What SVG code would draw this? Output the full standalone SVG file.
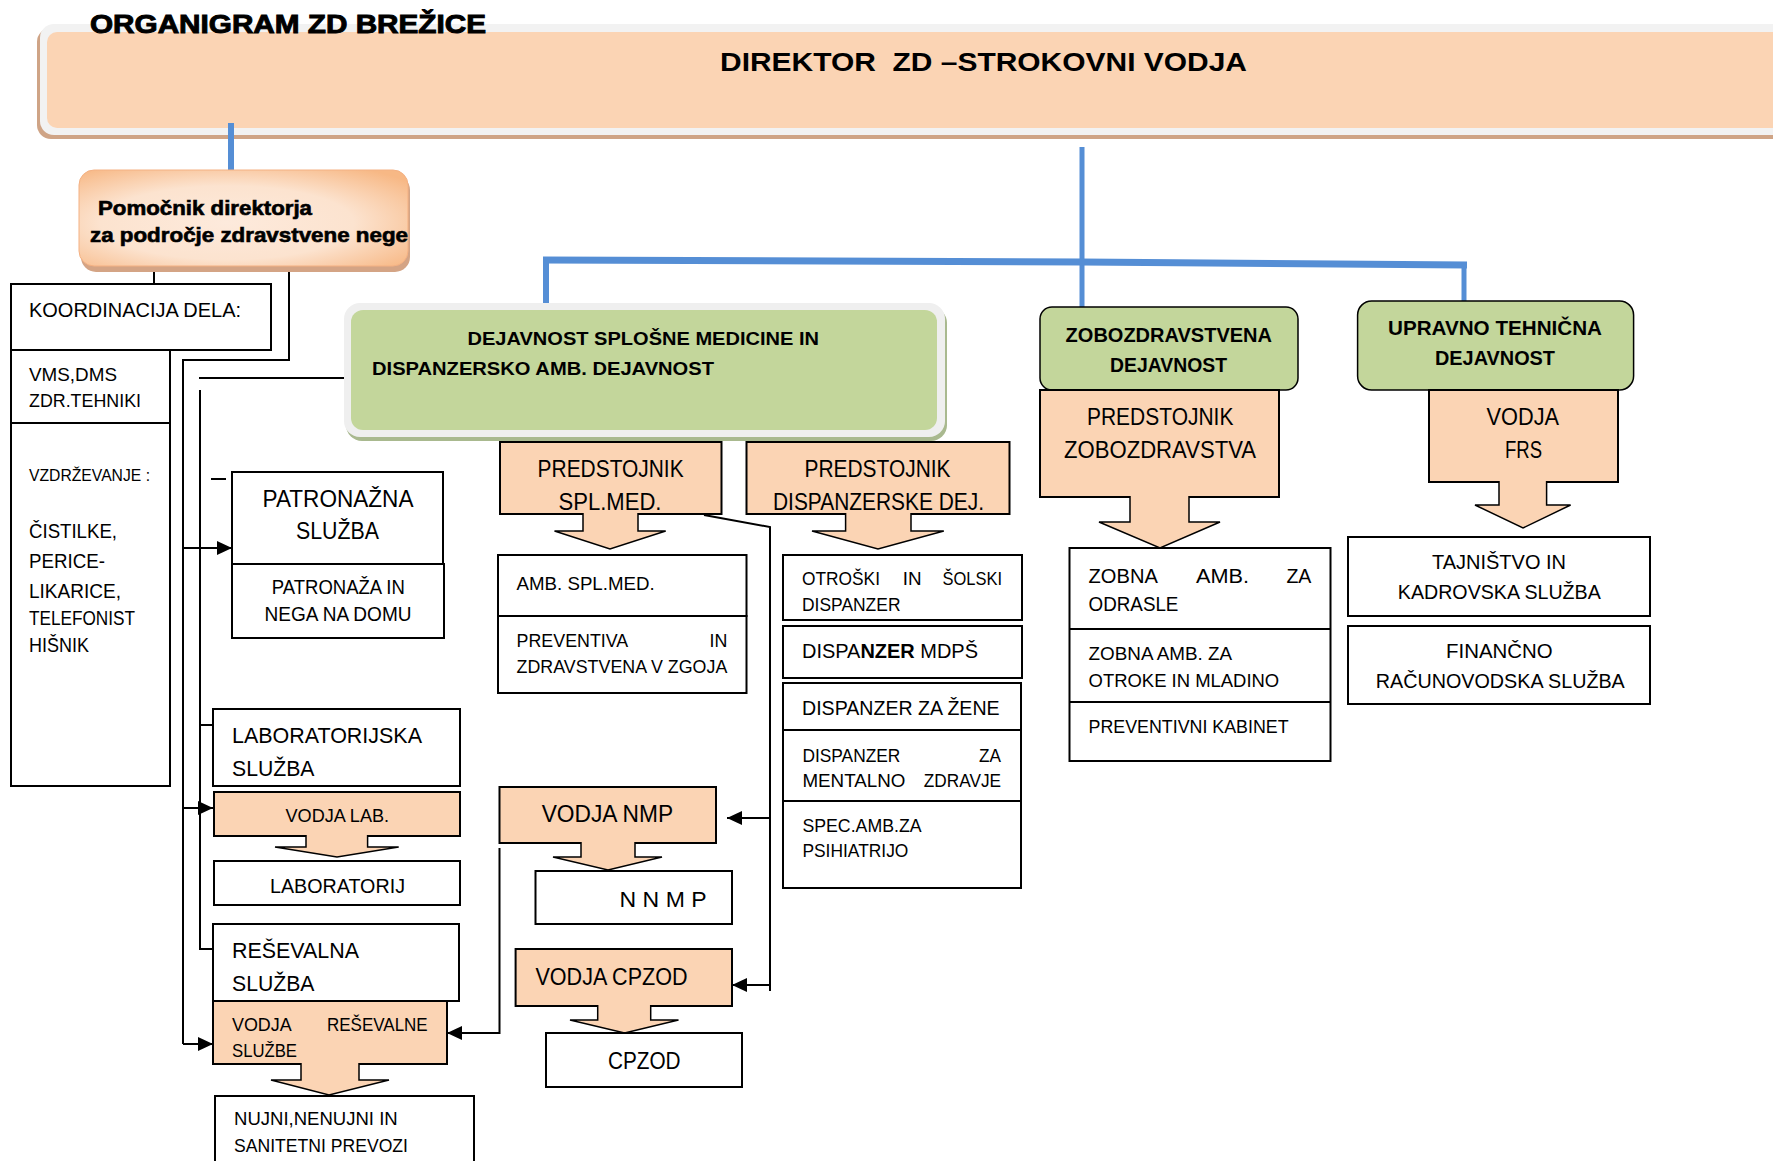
<svg xmlns="http://www.w3.org/2000/svg" width="1773" height="1161" viewBox="0 0 1773 1161">
<defs>
<style>
.t{font-family:"Liberation Sans",Arial,sans-serif;fill:#000}
.b{font-weight:bold}
.box{fill:#fff;stroke:#000;stroke-width:2}
.pe{fill:#fbd4b4;stroke:#000;stroke-width:2}
.ar{fill:#fbd4b4;stroke:#000;stroke-width:1.5;stroke-linejoin:miter}
.gr{fill:#c3d69b;stroke:#000;stroke-width:1.5}
.ln{fill:none;stroke:#000;stroke-width:2}
.bl{fill:none;stroke:#558ed5}
.hv{stroke:#000;stroke-width:0.6}
</style>
<radialGradient id="pg" cx="45%" cy="55%" r="70%">
<stop offset="0" stop-color="#fdeadc"/>
<stop offset="0.55" stop-color="#fce3cf"/>
<stop offset="1" stop-color="#f7b885"/>
</radialGradient>
<marker id="ah" markerUnits="userSpaceOnUse" markerWidth="16" markerHeight="14" refX="15" refY="7" orient="auto">
<path d="M0,0 L15,7 L0,14 Z" fill="#000"/>
</marker>
</defs>

<g id="direktor">
<rect x="37" y="28" width="1800" height="111" rx="14" fill="#cfa486"/>
<rect x="40" y="24" width="1800" height="111" rx="14" fill="#f2f2f2"/>
<rect x="47" y="32" width="1800" height="96" rx="10" fill="#fbd4b4"/>
<text class="t b" x="720" y="71" font-size="25" textLength="527" lengthAdjust="spacingAndGlyphs" style="white-space:pre">DIREKTOR  ZD –STROKOVNI VODJA</text>
</g>

<text class="t b" x="90" y="33" font-size="25" textLength="396" lengthAdjust="spacingAndGlyphs" style="stroke:#000;stroke-width:0.9">ORGANIGRAM ZD BREŽICE</text>

<g id="connectors">
<line class="bl" x1="231" y1="123" x2="231" y2="170" stroke-width="6"/>
<line class="bl" x1="1082" y1="147" x2="1082" y2="307" stroke-width="5"/>
<polyline class="bl" points="543,260 1082,262 1467,265" stroke-width="7"/>
<line class="bl" x1="546" y1="258" x2="546" y2="303" stroke-width="6"/>
<line class="bl" x1="1464" y1="262" x2="1464" y2="301" stroke-width="5"/>

<line class="ln" x1="154" y1="266" x2="154" y2="284"/>
<polyline class="ln" points="289,266 289,360 183,360 183,1044"/>
<line class="ln" x1="183" y1="548" x2="232" y2="548" marker-end="url(#ah)"/>
<line class="ln" x1="183" y1="808" x2="213" y2="808" marker-end="url(#ah)"/>
<line class="ln" x1="183" y1="1044" x2="213" y2="1044" marker-end="url(#ah)"/>
<line class="ln" x1="348" y1="378" x2="199" y2="378"/>
<line class="ln" x1="200" y1="390" x2="200" y2="949"/>
<line class="ln" x1="199" y1="725" x2="213" y2="725"/>
<line class="ln" x1="199" y1="949" x2="215" y2="949"/>
<line class="ln" x1="211" y1="479" x2="226" y2="479"/>
<polyline class="ln" points="704,515 770,527 770,991"/>
<line class="ln" x1="770" y1="818" x2="727" y2="818" marker-end="url(#ah)"/>
<line class="ln" x1="770" y1="985" x2="732" y2="985" marker-end="url(#ah)"/>
<polyline class="ln" points="499.5,848 499.5,1033 447,1033" marker-end="url(#ah)"/>
</g>

<g id="pomocnik">
<rect x="81" y="175" width="329" height="97" rx="15" fill="#d4a485"/>
<rect x="79" y="170" width="329" height="96" rx="15" fill="url(#pg)" stroke="#f4b183" stroke-width="1"/>
<text class="t b hv" x="98" y="215" font-size="19.5" textLength="214" lengthAdjust="spacingAndGlyphs">Pomočnik direktorja</text>
<text class="t b hv" x="90" y="242" font-size="19.5" textLength="318" lengthAdjust="spacingAndGlyphs">za področje zdravstvene nege</text>
</g>

<g id="koordinacija">
<rect class="box" x="11" y="284" width="260" height="66"/>
<text class="t" x="29" y="317" font-size="21" textLength="212" lengthAdjust="spacingAndGlyphs">KOORDINACIJA DELA:</text>
</g>
<g id="vms">
<rect class="box" x="11" y="350" width="159" height="73"/>
<text class="t" x="29" y="381" font-size="19" textLength="88" lengthAdjust="spacingAndGlyphs">VMS,DMS</text>
<text class="t" x="29" y="407" font-size="19" textLength="112" lengthAdjust="spacingAndGlyphs">ZDR.TEHNIKI</text>
</g>
<g id="vzdrzevanje">
<rect class="box" x="11" y="423" width="159" height="363"/>
<text class="t" x="29" y="481" font-size="17" textLength="121" lengthAdjust="spacingAndGlyphs">VZDRŽEVANJE :</text>
<text class="t" x="29" y="538" font-size="20" textLength="88" lengthAdjust="spacingAndGlyphs">ČISTILKE,</text>
<text class="t" x="29" y="568" font-size="20" textLength="76" lengthAdjust="spacingAndGlyphs">PERICE-</text>
<text class="t" x="29" y="598" font-size="20" textLength="92" lengthAdjust="spacingAndGlyphs">LIKARICE,</text>
<text class="t" x="29" y="625" font-size="20" textLength="106" lengthAdjust="spacingAndGlyphs">TELEFONIST</text>
<text class="t" x="29" y="652" font-size="20" textLength="60" lengthAdjust="spacingAndGlyphs">HIŠNIK</text>
</g>

<g id="patronazna">
<rect class="box" x="232" y="472" width="211" height="92"/>
<text class="t" x="262.5" y="507" font-size="23" textLength="151" lengthAdjust="spacingAndGlyphs">PATRONAŽNA</text>
<text class="t" x="296" y="539" font-size="23" textLength="83" lengthAdjust="spacingAndGlyphs">SLUŽBA</text>
</g>
<g id="patronaza">
<rect class="box" x="232" y="564" width="212" height="74"/>
<text class="t" x="271.8" y="594" font-size="19.5" textLength="133" lengthAdjust="spacingAndGlyphs">PATRONAŽA IN</text>
<text class="t" x="264.5" y="621" font-size="19.5" textLength="147" lengthAdjust="spacingAndGlyphs">NEGA NA DOMU</text>
</g>

<g id="labsluzba">
<rect class="box" x="213" y="709" width="247" height="77"/>
<text class="t" x="232" y="743" font-size="22" textLength="190" lengthAdjust="spacingAndGlyphs">LABORATORIJSKA</text>
<text class="t" x="232" y="776" font-size="22" textLength="82.5" lengthAdjust="spacingAndGlyphs">SLUŽBA</text>
</g>
<g id="vodjalab">
<rect class="pe" x="214" y="792" width="246" height="44"/>
<path class="ar" d="M306,835 L306,847 L275,847 L337,857 L398.7,847 L367.6,847 L367.6,835"/>
<text class="t" x="285.5" y="822" font-size="18.5" textLength="103.6" lengthAdjust="spacingAndGlyphs">VODJA LAB.</text>
</g>
<g id="laboratorij">
<rect class="box" x="214" y="861" width="246" height="44"/>
<text class="t" x="270" y="893" font-size="19.5" textLength="135" lengthAdjust="spacingAndGlyphs">LABORATORIJ</text>
</g>

<g id="resevalna">
<rect class="box" x="213" y="924" width="246" height="77"/>
<text class="t" x="232" y="958" font-size="22" textLength="127" lengthAdjust="spacingAndGlyphs">REŠEVALNA</text>
<text class="t" x="232" y="991" font-size="22" textLength="82.5" lengthAdjust="spacingAndGlyphs">SLUŽBA</text>
</g>
<g id="vodjares">
<rect class="pe" x="213" y="1001" width="234" height="63"/>
<path class="ar" d="M301,1063 L301,1080 L271,1080 L329,1095 L389,1080 L359,1080 L359,1063"/>
<text class="t" x="232" y="1031" font-size="17.5" textLength="59.7" lengthAdjust="spacingAndGlyphs">VODJA</text>
<text class="t" x="327" y="1031" font-size="17.5" textLength="100.7" lengthAdjust="spacingAndGlyphs">REŠEVALNE</text>
<text class="t" x="232" y="1057" font-size="17.5" textLength="65" lengthAdjust="spacingAndGlyphs">SLUŽBE</text>
</g>
<g id="nujni">
<rect class="box" x="215" y="1096" width="259" height="80"/>
<text class="t" x="234" y="1125" font-size="17.5" textLength="163.7" lengthAdjust="spacingAndGlyphs">NUJNI,NENUJNI IN</text>
<text class="t" x="234" y="1152" font-size="17.5" textLength="174" lengthAdjust="spacingAndGlyphs">SANITETNI PREVOZI</text>
</g>

<g id="splosna">
<rect x="346" y="307" width="601" height="134" rx="16" fill="#a9b98f"/>
<rect x="344" y="303" width="601" height="134" rx="16" fill="#efefef"/>
<rect x="351" y="310" width="586" height="120" rx="12" fill="#c3d69b"/>
<text class="t b" x="467.5" y="345" font-size="18.5" textLength="351.5" lengthAdjust="spacingAndGlyphs">DEJAVNOST SPLOŠNE MEDICINE IN</text>
<text class="t b" x="372" y="375" font-size="18.5" textLength="342" lengthAdjust="spacingAndGlyphs">DISPANZERSKO AMB. DEJAVNOST</text>
</g>

<g id="predspl">
<rect class="pe" x="500" y="442" width="221.5" height="72"/>
<path class="ar" d="M583,513 L583,531 L554.5,531 L610,549 L665.7,531 L638,531 L638,513"/>
<text class="t" x="537.6" y="477" font-size="23" textLength="146" lengthAdjust="spacingAndGlyphs">PREDSTOJNIK</text>
<text class="t" x="558.5" y="510" font-size="23" textLength="103" lengthAdjust="spacingAndGlyphs">SPL.MED.</text>
</g>
<g id="preddisp">
<rect class="pe" x="746.5" y="442" width="263" height="72"/>
<path class="ar" d="M845.6,513 L845.6,531 L812,531 L878,549 L943.8,531 L911,531 L911,513"/>
<text class="t" x="804.5" y="477" font-size="23" textLength="146" lengthAdjust="spacingAndGlyphs">PREDSTOJNIK</text>
<text class="t" x="773" y="510" font-size="23" textLength="211" lengthAdjust="spacingAndGlyphs">DISPANZERSKE DEJ.</text>
</g>

<g id="ambspl">
<rect class="box" x="498" y="555" width="248.5" height="61"/>
<text class="t" x="516.6" y="590" font-size="17.5" textLength="138" lengthAdjust="spacingAndGlyphs">AMB. SPL.MED.</text>
</g>
<g id="preventiva">
<rect class="box" x="498" y="616" width="248.5" height="77"/>
<text class="t" x="516.6" y="647" font-size="17.5" textLength="111.6" lengthAdjust="spacingAndGlyphs">PREVENTIVA</text>
<text class="t" x="709.5" y="647" font-size="17.5" textLength="17.8" lengthAdjust="spacingAndGlyphs">IN</text>
<text class="t" x="516.6" y="673" font-size="17.5" textLength="210.7" lengthAdjust="spacingAndGlyphs">ZDRAVSTVENA V ZGOJA</text>
</g>

<g id="otroski">
<rect class="box" x="783" y="555" width="239" height="65"/>
<text class="t" x="802" y="585" font-size="17.5" textLength="78" lengthAdjust="spacingAndGlyphs">OTROŠKI</text>
<text class="t" x="902.7" y="585" font-size="17.5" textLength="18.8" lengthAdjust="spacingAndGlyphs">IN</text>
<text class="t" x="942.5" y="585" font-size="17.5" textLength="59.5" lengthAdjust="spacingAndGlyphs">ŠOLSKI</text>
<text class="t" x="802" y="611" font-size="17.5" textLength="98.5" lengthAdjust="spacingAndGlyphs">DISPANZER</text>
</g>
<g id="mdps">
<rect class="box" x="783" y="626" width="239" height="52"/>
<text class="t" x="802" y="658" font-size="19.5" textLength="176" lengthAdjust="spacingAndGlyphs">DISPA<tspan class="b">NZER</tspan> MDPŠ</text>
</g>
<g id="zene">
<rect class="box" x="783" y="683" width="238" height="205"/>
<line class="ln" x1="783" y1="730" x2="1021" y2="730"/>
<line class="ln" x1="783" y1="801" x2="1021" y2="801"/>
<text class="t" x="802" y="715" font-size="19.5" textLength="197.6" lengthAdjust="spacingAndGlyphs">DISPANZER ZA ŽENE</text>
<text class="t" x="802.4" y="762" font-size="17.5" textLength="98" lengthAdjust="spacingAndGlyphs">DISPANZER</text>
<text class="t" x="979" y="762" font-size="17.5" textLength="22" lengthAdjust="spacingAndGlyphs">ZA</text>
<text class="t" x="802.4" y="787" font-size="17.5" textLength="103" lengthAdjust="spacingAndGlyphs">MENTALNO</text>
<text class="t" x="923.8" y="787" font-size="17.5" textLength="77.2" lengthAdjust="spacingAndGlyphs">ZDRAVJE</text>
<text class="t" x="802.4" y="832" font-size="17.5" textLength="119.2" lengthAdjust="spacingAndGlyphs">SPEC.AMB.ZA</text>
<text class="t" x="802.4" y="857" font-size="17.5" textLength="106" lengthAdjust="spacingAndGlyphs">PSIHIATRIJO</text>
</g>

<g id="vodjanmp">
<rect class="pe" x="499.5" y="787" width="216.5" height="56"/>
<path class="ar" d="M581,842 L581,857 L553,857 L608,870 L662,857 L635,857 L635,842"/>
<text class="t" x="541.7" y="822" font-size="23" textLength="131.5" lengthAdjust="spacingAndGlyphs">VODJA NMP</text>
</g>
<g id="nnmp">
<rect class="box" x="535.5" y="871" width="196.5" height="53"/>
<text class="t" x="619.6" y="907" font-size="22" textLength="87" lengthAdjust="spacingAndGlyphs">N N M P</text>
</g>
<g id="vodjacpzod">
<rect class="pe" x="515.6" y="949" width="216.4" height="57"/>
<path class="ar" d="M597.7,1005 L597.7,1020 L570,1020 L624.6,1033 L678.5,1020 L650.7,1020 L650.7,1005"/>
<text class="t" x="535.5" y="985" font-size="23" textLength="152" lengthAdjust="spacingAndGlyphs">VODJA CPZOD</text>
</g>
<g id="cpzod">
<rect class="box" x="546" y="1033" width="196" height="54"/>
<text class="t" x="608" y="1069" font-size="23" textLength="72.6" lengthAdjust="spacingAndGlyphs">CPZOD</text>
</g>

<g id="zobozdravstvena">
<rect class="gr" x="1040" y="307" width="258" height="83" rx="12"/>
<text class="t b" x="1065.6" y="342" font-size="19.5" textLength="206.4" lengthAdjust="spacingAndGlyphs">ZOBOZDRAVSTVENA</text>
<text class="t b" x="1110" y="372" font-size="19.5" textLength="117" lengthAdjust="spacingAndGlyphs">DEJAVNOST</text>
</g>
<g id="predzob">
<rect class="pe" x="1040" y="390" width="239" height="107"/>
<path class="ar" d="M1130,496 L1130,522 L1099,522 L1160,548 L1220,522 L1189,522 L1189,496"/>
<text class="t" x="1087" y="425" font-size="23" textLength="146.4" lengthAdjust="spacingAndGlyphs">PREDSTOJNIK</text>
<text class="t" x="1064" y="458" font-size="23" textLength="192" lengthAdjust="spacingAndGlyphs">ZOBOZDRAVSTVA</text>
</g>
<g id="zobna">
<rect class="box" x="1069.5" y="548" width="261" height="213"/>
<line class="ln" x1="1069.5" y1="629" x2="1330.5" y2="629"/>
<line class="ln" x1="1069.5" y1="702" x2="1330.5" y2="702"/>
<text class="t" x="1088.6" y="583" font-size="19.5" textLength="69.2" lengthAdjust="spacingAndGlyphs">ZOBNA</text>
<text class="t" x="1196" y="583" font-size="19.5" textLength="53" lengthAdjust="spacingAndGlyphs">AMB.</text>
<text class="t" x="1286.4" y="583" font-size="19.5" textLength="25" lengthAdjust="spacingAndGlyphs">ZA</text>
<text class="t" x="1088.6" y="611" font-size="19.5" textLength="89.8" lengthAdjust="spacingAndGlyphs">ODRASLE</text>
<text class="t" x="1088.6" y="660" font-size="17.5" textLength="143.5" lengthAdjust="spacingAndGlyphs">ZOBNA AMB. ZA</text>
<text class="t" x="1088.6" y="687" font-size="17.5" textLength="190.6" lengthAdjust="spacingAndGlyphs">OTROKE IN MLADINO</text>
<text class="t" x="1088.6" y="733" font-size="17.5" textLength="200" lengthAdjust="spacingAndGlyphs">PREVENTIVNI KABINET</text>
</g>

<g id="upravno">
<rect class="gr" x="1357.6" y="301" width="276" height="89" rx="14"/>
<text class="t b" x="1388" y="335" font-size="19.5" textLength="214" lengthAdjust="spacingAndGlyphs">UPRAVNO TEHNIČNA</text>
<text class="t b" x="1435" y="365" font-size="19.5" textLength="120" lengthAdjust="spacingAndGlyphs">DEJAVNOST</text>
</g>
<g id="vodjafrs">
<rect class="pe" x="1429" y="390" width="189" height="92"/>
<path class="ar" d="M1499,481 L1499,505 L1475,505 L1523,528 L1570.6,505 L1546.6,505 L1546.6,481"/>
<text class="t" x="1486.6" y="425" font-size="23" textLength="72.5" lengthAdjust="spacingAndGlyphs">VODJA</text>
<text class="t" x="1505" y="458" font-size="23" textLength="37" lengthAdjust="spacingAndGlyphs">FRS</text>
</g>
<g id="tajnistvo">
<rect class="box" x="1348" y="537" width="302" height="79"/>
<text class="t" x="1432" y="569" font-size="19.5" textLength="134" lengthAdjust="spacingAndGlyphs">TAJNIŠTVO IN</text>
<text class="t" x="1397.8" y="599" font-size="19.5" textLength="203" lengthAdjust="spacingAndGlyphs">KADROVSKA SLUŽBA</text>
</g>
<g id="financno">
<rect class="box" x="1348" y="626" width="302" height="78"/>
<text class="t" x="1446" y="658" font-size="19.5" textLength="106.6" lengthAdjust="spacingAndGlyphs">FINANČNO</text>
<text class="t" x="1375.8" y="688" font-size="19.5" textLength="249" lengthAdjust="spacingAndGlyphs">RAČUNOVODSKA SLUŽBA</text>
</g>
</svg>
